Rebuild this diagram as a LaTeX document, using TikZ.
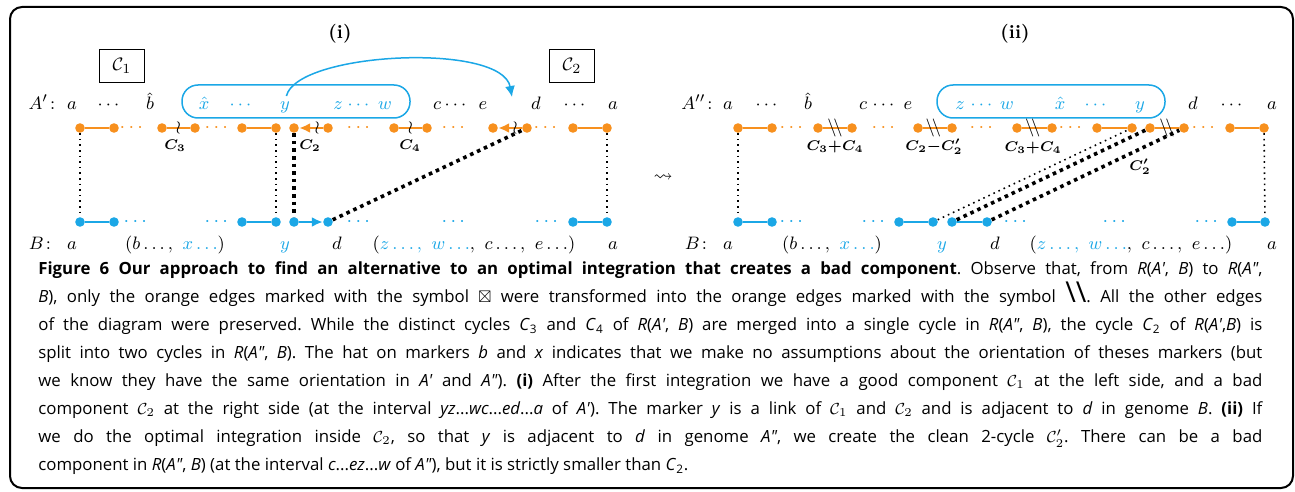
\documentclass[tikz,border=0pt]{standalone}
\usepackage{amsmath,amssymb}
\usepackage{fontspec}
\usetikzlibrary{positioning, arrows.meta, calc}
\newfontfamily\capfont{Open Sans}
\definecolor{genOrange}{HTML}{F7901E}
\definecolor{genBlue}{HTML}{1BA7E6}
\newcommand{\dslash}{$\backslash\!\backslash$}

\begin{document}
\begin{tikzpicture}[x=0.5pt, y=-0.5pt,
    lab/.style={font=\fontsize{9.5}{11}\selectfont, inner sep=0pt, anchor=base},
    blab/.style={lab, text=genBlue},
    odot/.style={circle, fill=genOrange, inner sep=0pt, minimum size=4.8pt},
    bdot/.style={circle, fill=genBlue, inner sep=0pt, minimum size=4.8pt},
    oedge/.style={genOrange, line width=1.2pt},
    bedge/.style={genBlue, line width=1.2pt},
    odots/.style={text=genOrange, font=\fontsize{10}{11}\selectfont, inner sep=0pt},
    bdots/.style={text=genBlue, font=\fontsize{10}{11}\selectfont, inner sep=0pt},
    lnk/.style={black, line width=0.8pt, dotted},
    lnkthick/.style={black, line width=1.8pt, dash pattern=on 1.8pt off 2pt},
    cyc/.style={font=\fontsize{7}{8}\selectfont\boldmath, inner sep=0pt},
    edgemark/.style={font=\fontsize{9.5}{11}\selectfont, inner sep=0pt},
    compbox/.style={draw, line width=0.5pt, minimum width=22.5pt, minimum height=16.5pt,
      inner sep=0pt, font=\fontsize{9.5}{11}\selectfont},
    arrtip/.style={-{Latex[length=5.5pt, width=5pt]}},
    caption/.style={font=\capfont\fontsize{8.4}{14}\selectfont\frenchspacing,
      inner sep=0pt, align=left}]
  \useasboundingbox (0,0) rectangle (1295,492);
  \draw[line width=1pt, rounded corners=6pt] (10,7) rectangle (1293,488);

  % ---- (i) after the first integration ----
  \node[lab] (ti) at (340,39) {\textbf{(i)}};
  \node[compbox] (comp1) at (122,66) {$\mathcal{C}_1$};
  \node[compbox] (comp2) at (572,66) {$\mathcal{C}_2$};
  \draw[genBlue, line width=0.75pt, rounded corners=8pt] (182,85) rectangle (410,118);
  \foreach \x/\t [count=\i] in {45/A'\colon, 72/a, 110/\cdots, 150/\hat b, 437/c,
      457/\cdots, 483/e, 536/d, 576/\cdots, 613/a}
    \node[lab] (ai\i) at (\x,110) {$\t$};
  \foreach \x/\t [count=\i] in {204/\hat x, 242/\cdots, 338/z, 360/\cdots, 385/w}
    \node[blab] (aib\i) at (\x,110) {$\t$};
  \node[blab] (yA) at (285,110) {$y$};
  \coordinate (dtop) at (512,97);
  \draw[genBlue, line width=0.75pt, arrtip, shorten <=3pt]
    (yA.north) .. controls +(12,-50) and +(-10,-55) .. (dtop);

  % orange edges of A'
  \foreach \n/\x in {1/80, 2/114, 3/162, 4/195, 5/242, 6/276, 7/294, 8/328,
      9/394, 10/427, 11/493, 12/527, 13/573, 14/607}
    \node[odot] (oi\n) at (\x,128) {};
  \foreach \x in {133, 218, 360, 455, 547}
    \node[odots] (odi\x) at (\x,128) {$\cdots$};
  \foreach \a/\b in {1/2, 3/4, 5/6, 9/10, 13/14}
    \draw[oedge] (oi\a) -- (oi\b);
  \draw[oedge, arrtip] (oi8) -- (oi7);
  \draw[oedge, arrtip] (oi12) -- (oi11);
  \node[edgemark] (wr3) at ($(oi3)!0.5!(oi4)$) {$\wr$};
  \node[edgemark] (wr2) at ($(oi7)!0.68!(oi8)$) {$\wr$};
  \node[edgemark] (wr4) at ($(oi9)!0.5!(oi10)$) {$\wr$};
  \node[edgemark] (wr5) at ($(oi11)!0.65!(oi12)$) {$\wr$};
  \node[cyc] (c3) at (175,146) {$C_3$};
  \node[cyc] (c2) at (310,146) {$C_2$};
  \node[cyc] (c4) at (410,146) {$C_4$};

  % blue edges of B
  \foreach \n/\x in {1/80, 2/114, 3/242, 4/276, 5/294, 6/328, 7/573, 8/607}
    \node[bdot] (bi\n) at (\x,222) {};
  \foreach \x in {137, 218, 360, 455, 548}
    \node[bdots] (bdi\x) at (\x,222) {$\cdots$};
  \foreach \a/\b in {1/2, 3/4, 7/8}
    \draw[bedge] (bi\a) -- (bi\b);
  \draw[bedge, arrtip] (bi5) -- (bi6);

  % links between the genomes
  \draw[lnk] (oi1) -- (bi1);
  \draw[lnk] (oi6) -- (bi4);
  \draw[lnk] (oi14) -- (bi8);
  \draw[lnkthick] (oi7) -- (bi5);
  \draw[lnkthick] (bi6) -- (oi12);

  \node[lab] (bi-lab) at (43,249) {$B\colon$};
  \node[lab] (bi-a) at (72,249) {$a$};
  \node[lab] (bi-bx) at (175,249) {$(b\ldots,\ \textcolor{genBlue}{x\ldots})$};
  \node[blab] (bi-y) at (285,249) {$y$};
  \node[lab] (bi-d) at (337,249) {$d$};
  \node[lab] (bi-zw) at (474,249)
    {$(\textcolor{genBlue}{z\ldots,\ w\ldots},\ c\ldots,\ e\ldots)$};
  \node[lab] (bi-a2) at (613,249) {$a$};

  \node[font=\fontsize{9.5}{11}\selectfont, inner sep=0pt] (leads) at (663,178) {$\leadsto$};

  % ---- (ii) optimal integration inside C2 ----
  \node[lab] (tii) at (1015,39) {\textbf{(ii)}};
  \draw[genBlue, line width=0.75pt, rounded corners=8pt] (937,85) rectangle (1165,118);
  \foreach \x/\t [count=\i] in {700/A''\colon, 728/a, 768/\cdots, 808/\hat b, 863/c,
      885/\cdots, 908/e, 1193/d, 1233/\cdots, 1272/a}
    \node[lab] (aii\i) at (\x,110) {$\t$};
  \foreach \x/\t [count=\i] in {960/z, 983/\cdots, 1007/w, 1060/\hat x, 1097/\cdots, 1140/y}
    \node[blab] (aiib\i) at (\x,110) {$\t$};

  % orange edges of A''
  \foreach \n/\x in {1/738, 2/772, 3/818, 4/852, 5/918, 6/952, 7/1017, 8/1052,
      9/1097, 10/1132, 11/1150, 12/1184, 13/1230, 14/1264}
    \node[odot] (oii\n) at (\x,128) {};
  \foreach \x in {793, 885, 983, 1072, 1205}
    \node[odots] (odii\x) at (\x,128) {$\cdots$};
  \foreach \a/\b in {1/2, 3/4, 5/6, 7/8, 9/10, 11/12, 13/14}
    \draw[oedge] (oii\a) -- (oii\b);
  \node[edgemark] (sl1) at ($(oii3)!0.5!(oii4)$) {\dslash};
  \node[edgemark] (sl2) at ($(oii5)!0.45!(oii6)$) {\dslash};
  \node[edgemark] (sl3) at ($(oii7)!0.45!(oii8)$) {\dslash};
  \node[edgemark] (sl4) at ($(oii11)!0.5!(oii12)$) {\dslash};
  \node[cyc] (c34a) at (835,147) {$C_3{+}C_4$};
  \node[cyc] (c22) at (934,147) {$C_2{-}C_2'$};
  \node[cyc] (c34b) at (1033,148) {$C_3{+}C_4$};
  \node[cyc] (c2p) at (1140,167) {$C_2'$};

  % blue edges of B
  \foreach \n/\x in {1/738, 2/772, 3/899, 4/933, 5/952, 6/987, 7/1232, 8/1265}
    \node[bdot] (bii\n) at (\x,222) {};
  \foreach \x in {793, 875, 1017, 1116, 1208}
    \node[bdots] (bdii\x) at (\x,222) {$\cdots$};
  \foreach \a/\b in {1/2, 3/4, 5/6, 7/8}
    \draw[bedge] (bii\a) -- (bii\b);

  % links between the genomes
  \draw[lnk] (oii1) -- (bii1);
  \draw[lnk] (oii14) -- (bii8);
  \draw[lnk] (bii4) -- (oii10);
  \draw[lnkthick] (bii5) -- (oii11);
  \draw[lnkthick] (bii6) -- (oii12);

  \node[lab] (bii-lab) at (699,249) {$B\colon$};
  \node[lab] (bii-a) at (728,249) {$a$};
  \node[lab] (bii-bx) at (832,249) {$(b\ldots,\ \textcolor{genBlue}{x\ldots})$};
  \node[blab] (bii-y) at (942,249) {$y$};
  \node[lab] (bii-d) at (995,249) {$d$};
  \node[lab] (bii-zw) at (1131,249)
    {$(\textcolor{genBlue}{z\ldots,\ w\ldots},\ c\ldots,\ e\ldots)$};
  \node[lab] (bii-a2) at (1272,249) {$a$};

  % ---- caption ----
  \node[caption, anchor=north west] (cap) at (38,261) {%
    \makebox[612pt][s]{\textbf{Figure 6 Our approach to find an alternative to an optimal integration that creates a bad component}. Observe that, from \textit{R}(\textit{A'}, \textit{B}) to \textit{R}(\textit{A"},}\\
    \makebox[612pt][s]{\textit{B}), only the orange edges marked with the symbol $\boxtimes$ were transformed into the orange edges marked with the symbol {\Large\textbackslash\textbackslash}. All the other edges}\\
    \makebox[612pt][s]{of the diagram were preserved. While the distinct cycles \textit{C}\textsubscript{3} and \textit{C}\textsubscript{4} of \textit{R}(\textit{A'}, \textit{B}) are merged into a single cycle in \textit{R}(\textit{A"}, \textit{B}), the cycle \textit{C}\textsubscript{2} of \textit{R}(\textit{A'},\textit{B}) is}\\
    \makebox[612pt][s]{split into two cycles in \textit{R}(\textit{A"}, \textit{B}). The hat on markers \textit{b} and \textit{x} indicates that we make no assumptions about the orientation of theses markers (but}\\
    \makebox[612pt][s]{we know they have the same orientation in \textit{A'} and \textit{A"}). \textbf{(i)} After the first integration we have a good component $\mathcal{C}_1$ at the left side, and a bad}\\
    \makebox[612pt][s]{component $\mathcal{C}_2$ at the right side (at the interval \textit{yz}...\textit{wc}...\textit{ed}...\textit{a} of \textit{A'}). The marker \textit{y} is a link of $\mathcal{C}_1$ and $\mathcal{C}_2$ and is adjacent to \textit{d} in genome \textit{B}. \textbf{(ii)} If}\\
    \makebox[612pt][s]{we do the optimal integration inside $\mathcal{C}_2$, so that \textit{y} is adjacent to \textit{d} in genome \textit{A"}, we create the clean 2-cycle $\mathcal{C}'_2$. There can be a bad}\\
    component in \textit{R}(\textit{A"}, \textit{B}) (at the interval \textit{c}...\textit{ez}...\textit{w} of \textit{A"}), but it is strictly smaller than \textit{C}\textsubscript{2}.};
\end{tikzpicture}
\end{document}
